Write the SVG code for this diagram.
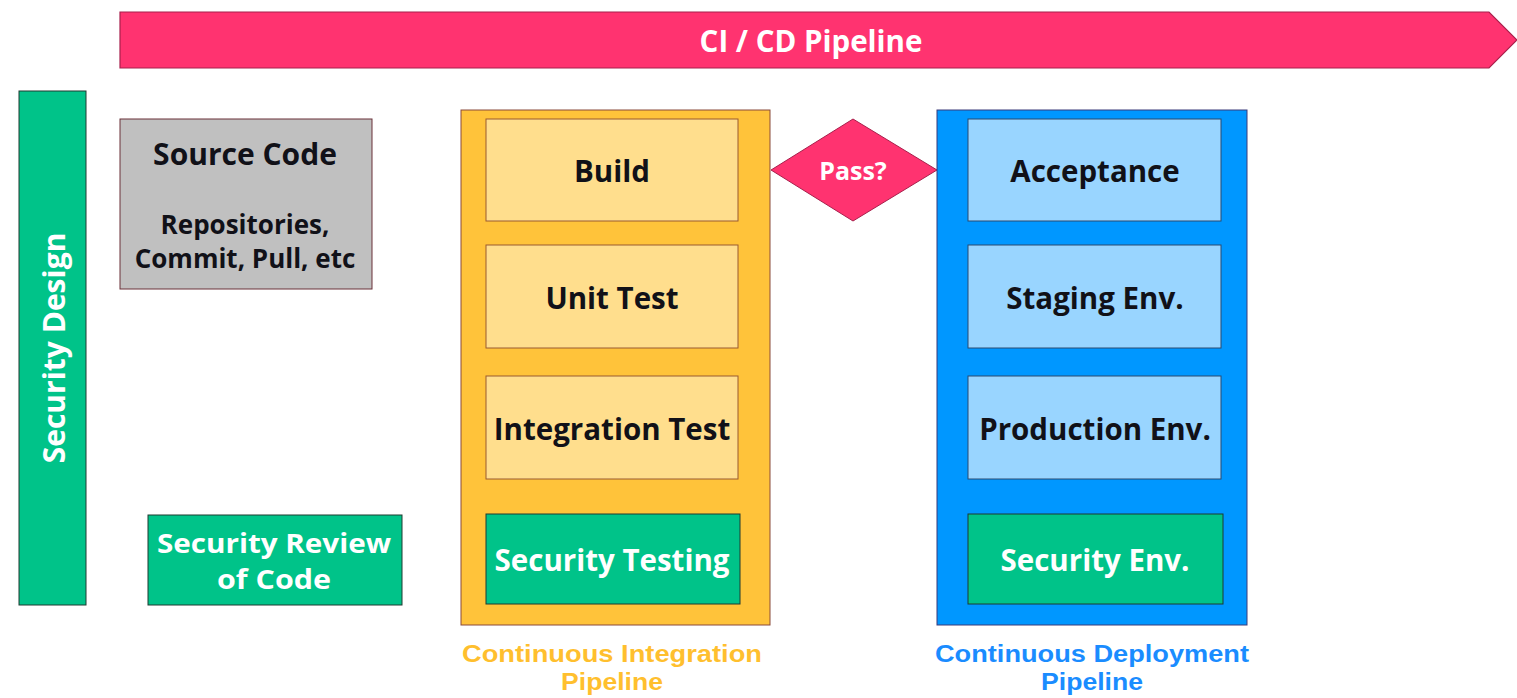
<svg xmlns="http://www.w3.org/2000/svg" width="1517" height="698" viewBox="0 0 1517 698">
<style>
text{font-family:"Open Sans","Liberation Sans",sans-serif;font-weight:700;text-anchor:middle;dominant-baseline:central}
.dk{fill:#111118}
.wt{fill:#ffffff}
.lbl{font-size:29.5px}
.cap{font-family:"Liberation Sans",Arial,sans-serif;font-size:24px}
.green{fill:#00c389;stroke:#1f3a30;stroke-width:1}
.ly{fill:#ffde8d;stroke:#9a5a30;stroke-width:1}
.lb{fill:#99d5ff;stroke:#2a4a70;stroke-width:1}
</style>
<rect width="1517" height="698" fill="#ffffff"/>
<g id="banner">
<polygon points="120,12 1489,12 1517,40 1489,68 120,68" fill="#ff3370" stroke="#a8204c" stroke-width="1.2"/>
<text x="811" y="40" class="wt" style="font-size:29.5px">CI / CD Pipeline</text>
</g>
<g id="security-design">
<rect x="19" y="91" width="67" height="514" class="green"/>
<text transform="translate(53,348) rotate(-90)" class="wt" style="font-size:30px">Security Design</text>
</g>
<g id="source-code">
<rect x="120" y="119" width="252" height="170" fill="#c0c0c0" stroke="#6a3038" stroke-width="1"/>
<text x="245" y="153" class="dk" style="font-size:30px">Source Code</text>
<text x="245" y="224" class="dk" style="font-size:26px">Repositories,</text>
<text x="245" y="258" class="dk" style="font-size:26px">Commit, Pull, etc</text>
</g>
<g id="security-review">
<rect x="148" y="515" width="254" height="90" class="green"/>
<text x="274" y="543" class="wt" style="font-size:26px" textLength="234" lengthAdjust="spacingAndGlyphs">Security Review</text>
<text x="274" y="579" class="wt" style="font-size:26px" textLength="114" lengthAdjust="spacingAndGlyphs">of Code</text>
</g>
<g id="ci-pipeline">
<rect x="461" y="110" width="309" height="515" fill="#ffc33a" stroke="#8a4a3a" stroke-width="1"/>
<text x="612" y="653" class="cap" style="fill:#ffbf2e" textLength="300" lengthAdjust="spacingAndGlyphs">Continuous Integration</text>
<text x="612" y="681" class="cap" style="fill:#ffbf2e" textLength="102" lengthAdjust="spacingAndGlyphs">Pipeline</text>
</g>
<g id="build">
<rect x="486" y="119" width="252" height="102" class="ly"/>
<text x="612" y="170" class="dk lbl">Build</text>
</g>
<g id="unit-test">
<rect x="486" y="245" width="252" height="103" class="ly"/>
<text x="612" y="297" class="dk lbl">Unit Test</text>
</g>
<g id="integration-test">
<rect x="486" y="376" width="252" height="103" class="ly"/>
<text x="612" y="428" class="dk lbl">Integration Test</text>
</g>
<g id="security-testing">
<rect x="486" y="514" width="254" height="90" class="green"/>
<text x="612" y="559" class="wt lbl">Security Testing</text>
</g>
<g id="pass">
<polygon points="771,170 853,119 937,170 853,221" fill="#ff3370" stroke="#a8204c" stroke-width="1"/>
<text x="853" y="170" class="wt" style="font-size:25px">Pass?</text>
</g>
<g id="cd-pipeline">
<rect x="937" y="110" width="310" height="515" fill="#0097ff" stroke="#3a3a7a" stroke-width="1"/>
<text x="1092" y="653" class="cap" style="fill:#1a8cff" textLength="314" lengthAdjust="spacingAndGlyphs">Continuous Deployment</text>
<text x="1092" y="681" class="cap" style="fill:#1a8cff" textLength="102" lengthAdjust="spacingAndGlyphs">Pipeline</text>
</g>
<g id="acceptance">
<rect x="968" y="119" width="253" height="102" class="lb"/>
<text x="1095" y="170" class="dk lbl">Acceptance</text>
</g>
<g id="staging">
<rect x="968" y="245" width="253" height="103" class="lb"/>
<text x="1095" y="297" class="dk lbl">Staging Env.</text>
</g>
<g id="production">
<rect x="968" y="376" width="253" height="103" class="lb"/>
<text x="1095" y="428" class="dk lbl">Production Env.</text>
</g>
<g id="security-env">
<rect x="968" y="514" width="255" height="90" class="green"/>
<text x="1095" y="559" class="wt lbl">Security Env.</text>
</g>
<g id="connectors"/>
</svg>
